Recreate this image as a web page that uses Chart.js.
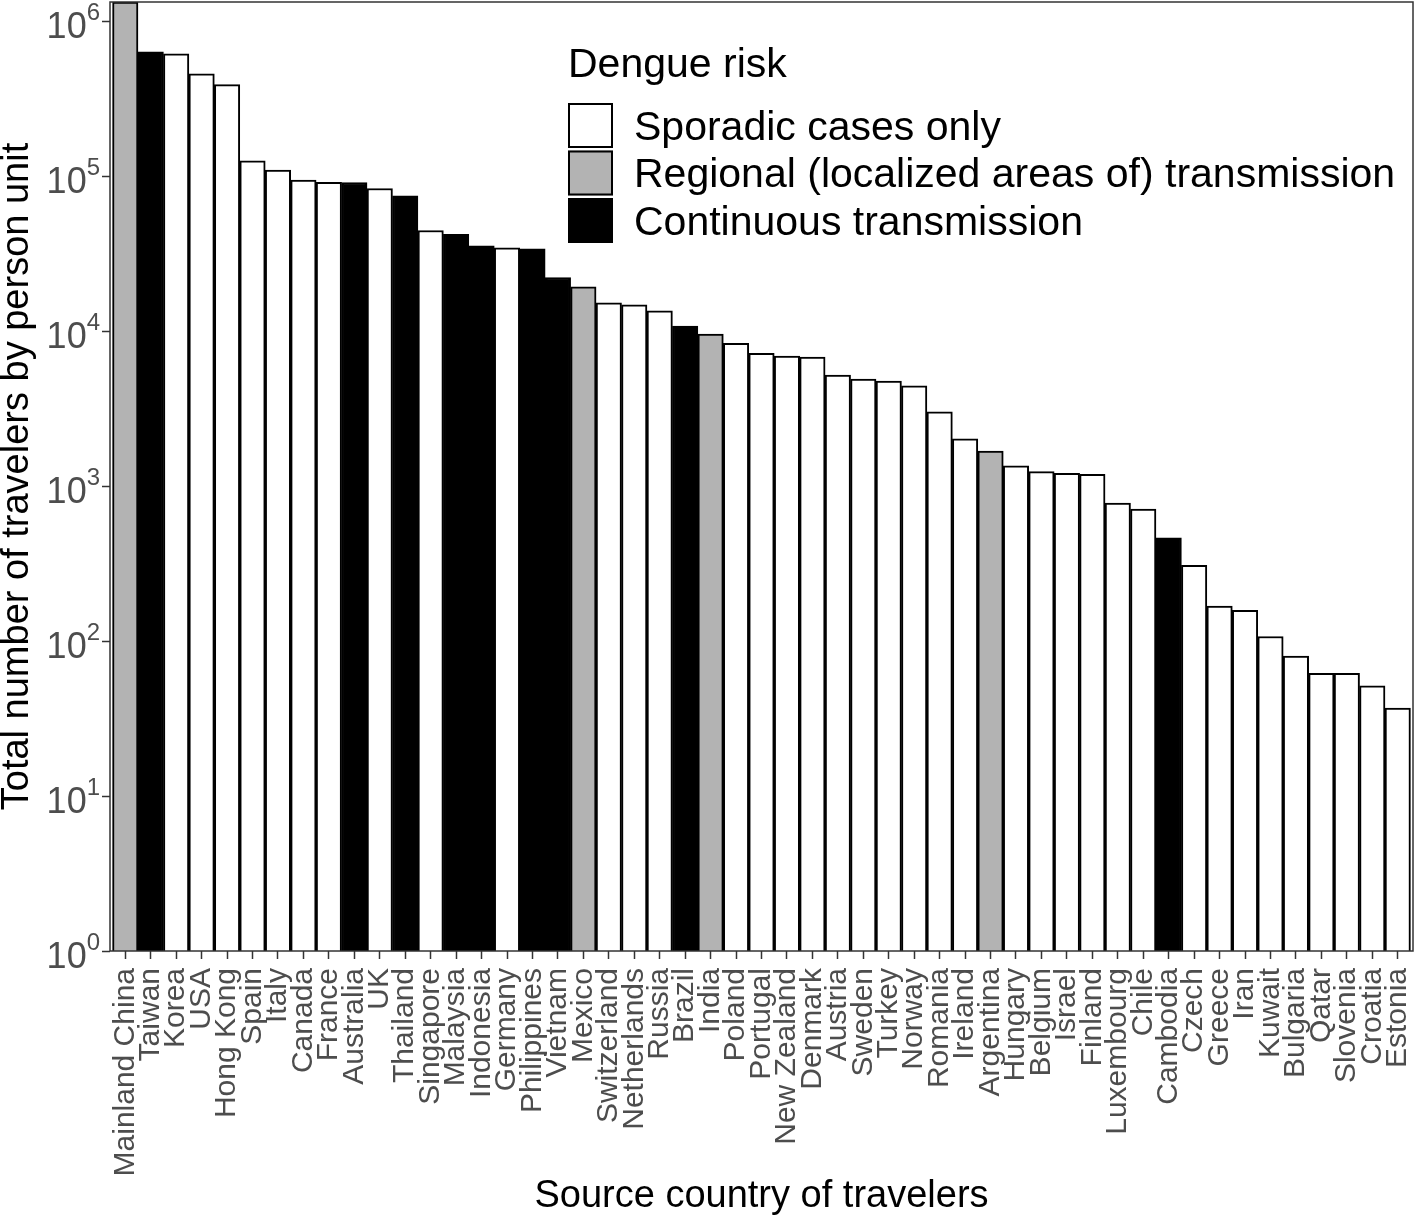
<!DOCTYPE html>
<html>
<head>
<meta charset="utf-8">
<script src="https://cdn.jsdelivr.net/npm/chart.js@4.4.1/dist/chart.umd.min.js"></script>
<style>
  html, body { margin: 0; padding: 0; background: #fff; }
  #wrap { width: 1416px; height: 1221px; }
</style>
</head>
<body>
<div id="wrap"><canvas id="travelChart" width="1416" height="1221"></canvas></div>
<script>
const countries = [
  "Mainland China", "Taiwan", "Korea", "USA", "Hong Kong", "Spain", "Italy", "Canada", "France",
  "Australia", "UK", "Thailand", "Singapore", "Malaysia", "Indonesia", "Germany", "Philippines",
  "Vietnam", "Mexico", "Switzerland", "Netherlands", "Russia", "Brazil", "India", "Poland",
  "Portugal", "New Zealand", "Denmark", "Austria", "Sweden", "Turkey", "Norway", "Romania",
  "Ireland", "Argentina", "Hungary", "Belgium", "Israel", "Finland", "Luxembourg", "Chile",
  "Cambodia", "Czech", "Greece", "Iran", "Kuwait", "Bulgaria", "Qatar", "Slovenia", "Croatia", "Estonia"
];
const travelers = [
  1330000, 634000, 615000, 457000, 390000, 125600, 109400, 94200, 91400,
  91000, 83200, 74600, 44600, 42100, 35500, 34500, 34000,
  22200, 19300, 15200, 14800, 13500, 10770, 9570, 8340,
  7180, 6900, 6800, 5200, 4900, 4760, 4440, 3010,
  2020, 1680, 1350, 1240, 1210, 1190, 776, 711,
  464, 308, 168, 158, 107, 80, 62, 62, 51.5, 37
];
// 0 = sporadic, 1 = regional, 2 = continuous
const risk = [
  1, 2, 0, 0, 0, 0, 0, 0, 0,
  2, 0, 2, 0, 2, 2, 0, 2,
  2, 1, 0, 0, 0, 2, 1, 0,
  0, 0, 0, 0, 0, 0, 0, 0,
  0, 1, 0, 0, 0, 0, 0, 0,
  2, 0, 0, 0, 0, 0, 0, 0, 0, 0
];
const riskLabels = ["Sporadic cases only", "Regional (localized areas of) transmission", "Continuous transmission"];
const riskColors = ["#ffffff", "#b3b3b3", "#000000"];
const yTickValues = [1, 10, 100, 1000, 10000, 100000, 1000000];

const FONT = "'Liberation Sans', Arial, sans-serif";

const ggDecor = {
  id: "ggDecor",
  afterDatasetsDraw(chart) {
    const { ctx, chartArea: a, scales } = chart;
    ctx.save();
    // panel border
    ctx.strokeStyle = "#333333";
    ctx.lineWidth = 1.5;
    ctx.strokeRect(a.left, a.top, a.right - a.left, a.bottom - a.top);

    // y tick labels as 10^n
    const ys = scales.y;
    ctx.fillStyle = "#4d4d4d";
    ctx.textBaseline = "alphabetic";
    ctx.textAlign = "right";
    ys.ticks.forEach(t => {
      const py = ys.getPixelForValue(t.value);
      const exp = String(Math.round(Math.log10(t.value)));
      const xr = a.left - 10;
      ctx.font = "24px " + FONT;
      const supW = ctx.measureText(exp).width;
      ctx.fillText(exp, xr, py - 1);
      ctx.font = "36px " + FONT;
      ctx.fillText("10", xr - supW, py + 17);
    });

    // legend
    const lx = 568, top0 = 103, size = 45, pitch = 47.5;
    ctx.fillStyle = "#000";
    ctx.textAlign = "left";
    ctx.font = "41px " + FONT;
    ctx.fillText("Dengue risk", lx, 77);
    riskLabels.forEach((lab, i) => {
      const ky = top0 + i * pitch;
      ctx.fillStyle = riskColors[i];
      ctx.fillRect(lx, ky, size, size);
      ctx.strokeStyle = "#000";
      ctx.lineWidth = 2;
      ctx.strokeRect(lx + 1, ky + 1, size - 2, size - 2);
      ctx.fillStyle = "#000";
      ctx.textBaseline = "middle";
      ctx.fillText(lab, 634, ky + size / 2 + 3);
      ctx.textBaseline = "alphabetic";
    });
    ctx.restore();
  }
};

const ctx = document.getElementById("travelChart").getContext("2d");
new Chart(ctx, {
  type: "bar",
  data: {
    datasets: [{
      data: countries.map((c, i) => ({ x: i, y: travelers[i] })),
      backgroundColor: risk.map(r => riskColors[r]),
      borderColor: "#000000",
      borderWidth: 2,
      categoryPercentage: 1,
      barPercentage: 1
    }]
  },
  options: {
    responsive: false,
    animation: false,
    devicePixelRatio: 1,
    layout: { padding: { top: 2, right: 3, left: 0, bottom: 0 } },
    plugins: { legend: { display: false }, tooltip: { enabled: false } },
    scales: {
      x: {
        type: "linear",
        offset: false,
        min: -0.6,
        max: countries.length - 0.4,
        afterBuildTicks: s => { s.ticks = countries.map((c, i) => ({ value: i })); },
        afterFit: s => { s.height = 270; s.paddingLeft = 0; s.paddingRight = 0; },
        grid: { offset: false, drawOnChartArea: false, drawTicks: true, tickLength: 8, tickColor: "#333333", tickWidth: 1.5 },
        border: { display: false },
        ticks: {
          autoSkip: false,
          minRotation: 90,
          maxRotation: 90,
          padding: 9,
          color: "#4d4d4d",
          font: { family: FONT, size: 30 },
          callback: v => countries[v]
        },
        title: {
          display: true,
          text: "Source country of travelers",
          color: "#000",
          font: { family: FONT, size: 38, lineHeight: 1.2 },
          padding: { top: 0, bottom: 2 }
        }
      },
      y: {
        type: "logarithmic",
        min: 1,
        max: Math.max(...travelers),
        afterBuildTicks: s => { s.ticks = yTickValues.map(v => ({ value: v })); },
        afterFit: s => { s.width = 110; s.paddingTop = 0; s.paddingBottom = 0; },
        grid: { drawOnChartArea: false, drawTicks: true, tickLength: 8, tickColor: "#333333", tickWidth: 1.5 },
        border: { display: false },
        ticks: { display: false },
        title: {
          display: true,
          text: "Total number of travelers by person unit",
          color: "#000",
          font: { family: FONT, size: 38, lineHeight: 0.9 },
          padding: 0
        }
      }
    }
  },
  plugins: [ggDecor]
});
</script>
</body>
</html>
